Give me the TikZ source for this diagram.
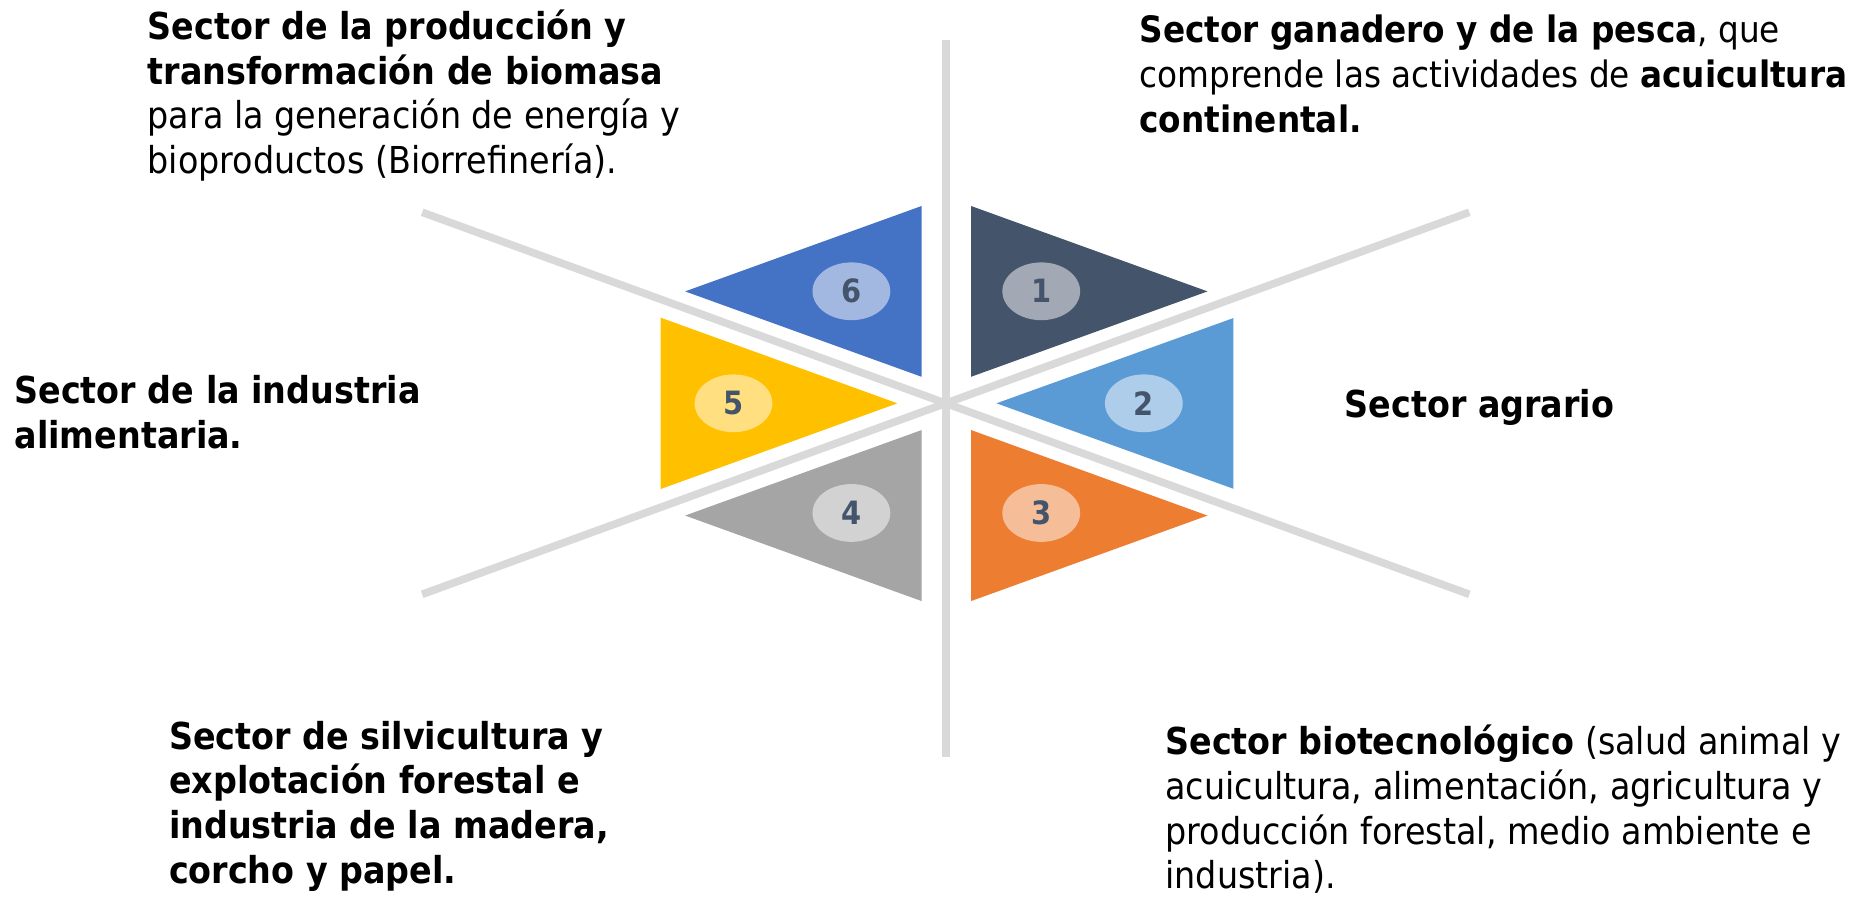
\documentclass[tikz,border=0pt]{standalone}
\usepackage{fontspec}
\setmainfont{DejaVu Sans Condensed}
\usetikzlibrary{shapes.geometric}

\definecolor{ganadero}{HTML}{44546A}
\definecolor{agrario}{HTML}{5B9BD5}
\definecolor{biotec}{HTML}{ED7D31}
\definecolor{forestal}{HTML}{A5A5A5}
\definecolor{alimentos}{HTML}{FFC000}
\definecolor{biomasa}{HTML}{4472C4}
\definecolor{axisgray}{HTML}{D9D9D9}

\newcommand{\sectorfont}{\fontsize{17.9}{21.65}\selectfont}
\newcommand{\firstline}{\rule{0pt}{0.9em}}

\tikzset{
    axis line/.style={draw=axisgray, line width=3.7pt},
    bubble/.style={ellipse, minimum width=1.32cm, minimum height=0.98cm, inner sep=0pt,
        font=\fontsize{15.5}{17}\selectfont\bfseries, text=ganadero},
    sector text/.style={anchor=north west, inner sep=0pt, align=left, font=\sectorfont}
}

\begin{document}
\begin{tikzpicture}[x=0.02cm, y=-0.02cm]

        \useasboundingbox (0,0) rectangle (1568,762);

        % Axes
        \coordinate (hub) at (802,342);
        \draw[axis line] (802,34) -- (802,642);
        \draw[axis line] (358,180) -- (1246,504);
        \draw[axis line] (358,504) -- (1246,180);

        % Sector 1
        \fill[ganadero] (823.5,174.7) -- (823.5,319.5) -- (1024,247.1) -- cycle;
        \node[bubble, fill=ganadero!50!white] (n1) at (883,247) {1};

        % Sector 2
        \fill[agrario] (845,342) -- (1046,269.7) -- (1046,414.5) -- cycle;
        \node[bubble, fill=agrario!50!white] (n2) at (970,342) {2};

        % Sector 3
        \fill[biotec] (823.5,364.7) -- (823.5,509.7) -- (1024,437.2) -- cycle;
        \node[bubble, fill=biotec!50!white] (n3) at (883,435) {3};

        % Sector 4
        \fill[forestal] (781.5,364.7) -- (781.5,509.7) -- (581,437.2) -- cycle;
        \node[bubble, fill=forestal!50!white] (n4) at (722,435) {4};

        % Sector 5
        \fill[alimentos] (560.3,269.4) -- (560.3,414.7) -- (761,342) -- cycle;
        \node[bubble, fill=alimentos!50!white] (n5) at (622,342) {5};

        % Sector 6
        \fill[biomasa] (781.5,174.7) -- (781.5,319.5) -- (581,247.1) -- cycle;
        \node[bubble, fill=biomasa!50!white] (n6) at (722,247) {6};

        % Texts
        \node[sector text] (t6) at (125,4.6) {\firstline\textbf{Sector de la producción y}\\
            \textbf{transformación de biomasa}\\
            para la generación de energía y\\
            bioproductos (Biorrefinería).};

        \node[sector text, font=\fontsize{17.55}{21.65}\selectfont] (t1) at (966,8.3) {\firstline\textbf{Sector ganadero y de la pesca}, que\\
            comprende las actividades de \textbf{acuicultura}\\
            \textbf{continental.}};

        \node[sector text] (t5) at (12,313.6) {\firstline\textbf{Sector de la industria}\\
            \textbf{alimentaria.}};

        \node[sector text] (t2) at (1140,325.6) {\firstline\textbf{Sector agrario}};

        \node[sector text] (t4) at (143,606.6) {\firstline\textbf{Sector de silvicultura y}\\
            \textbf{explotación forestal e}\\
            \textbf{industria de la madera,}\\
            \textbf{corcho y papel.}};

        \node[sector text] (t3) at (988,611) {\firstline\textbf{Sector biotecnológico} (salud animal y\\
            acuicultura, alimentación, agricultura y\\
            producción forestal, medio ambiente e\\
            industria).};

    \end{tikzpicture}
\end{document}
